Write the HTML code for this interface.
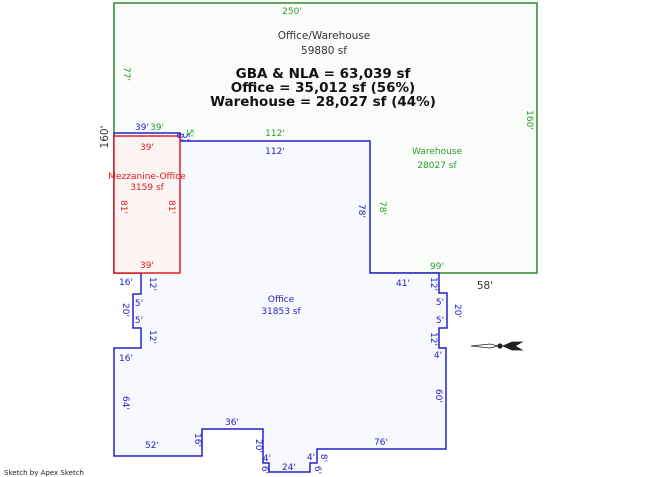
<!DOCTYPE html>
<html><head><style>
html,body{margin:0;padding:0;background:#fff;}
svg{display:block;}
text{font-family:"DejaVu Sans","Liberation Sans",sans-serif;font-size:9px;}
</style></head><body>
<svg width="650" height="477" viewBox="0 0 650 477" xmlns="http://www.w3.org/2000/svg">
<rect x="114" y="3" width="423" height="270" fill="#f9fcf9" stroke="#2e8b2e" stroke-width="1.5"/>
<path d="M114,133 L180,133 L180,141 L370,141 L370,273 L439,273 L439,293 L447,293 L447,328 L439,328 L439,348 L446,348 L446,449 L317,449 L317,463 L310,463 L310,472 L269,472 L269,463 L263,463 L263,429 L202,429 L202,456 L114,456 L114,348 L141,348 L141,328 L133,328 L133,294 L141,294 L141,273 L114,273 Z" fill="#f8f8ff" stroke="#2323c8" stroke-width="1.5"/>
<rect x="114" y="136" width="66" height="137" fill="#fcf3f3" stroke="#e02020" stroke-width="1.5"/>
<g fill="#2e9a2e" text-anchor="middle">
<text x="292" y="14">250'</text>
<text x="157" y="130">39'</text>
<text x="275" y="136">112'</text>
<text x="437" y="154">Warehouse</text>
<text x="437" y="168">28027 sf</text>
<text x="437" y="269">99'</text>
<text transform="translate(124,74) rotate(90)">77'</text>
<text transform="translate(527,120) rotate(90)">160'</text>
<text transform="translate(380,208) rotate(90)">78'</text>
<text transform="translate(187,133) rotate(90)">5'</text>
</g>
<g fill="#333" text-anchor="middle">
<text x="324" y="39" style="font-size:10.5px">Office/Warehouse</text>
<text x="324" y="54" style="font-size:10.5px">59880 sf</text>
<text transform="translate(108,137) rotate(-90)" style="font-size:10.5px">160'</text>
<text x="485" y="289" style="font-size:10.5px">58'</text>
</g>
<g fill="#111" text-anchor="middle">
<text x="323" y="78" style="font-size:13.5px;font-weight:bold">GBA &amp; NLA = 63,039 sf</text>
<text x="323" y="92" style="font-size:13.5px;font-weight:bold">Office = 35,012 sf (56%)</text>
<text x="323" y="106" style="font-size:13.5px;font-weight:bold">Warehouse = 28,027 sf (44%)</text>
</g>
<g fill="#2323c8" text-anchor="middle">
<text x="142" y="130">39'</text>
<text x="275" y="154">112'</text>
<text x="281" y="302">Office</text>
<text x="281" y="314">31853 sf</text>
<text x="126" y="285">16'</text>
<text x="403" y="286">41'</text>
<text x="126" y="361">16'</text>
<text x="152" y="448">52'</text>
<text x="232" y="425">36'</text>
<text x="267" y="461">4'</text>
<text x="289" y="470">24'</text>
<text x="311" y="460">4'</text>
<text x="381" y="445">76'</text>
<text x="139" y="306">5'</text>
<text x="139" y="323">5'</text>
<text x="440" y="305">5'</text>
<text x="440" y="323">5'</text>
<text x="438" y="358">4'</text>
<text transform="translate(177,137) rotate(90)">8'</text>
<text transform="translate(183,137) rotate(90)">5'</text>
<text transform="translate(150,284) rotate(90)">12'</text>
<text transform="translate(123,310) rotate(90)">20'</text>
<text transform="translate(150,337) rotate(90)">12'</text>
<text transform="translate(123,403) rotate(90)">64'</text>
<text transform="translate(195,440) rotate(90)">16'</text>
<text transform="translate(256,446) rotate(90)">20'</text>
<text transform="translate(262,470) rotate(90)">6'</text>
<text transform="translate(315,470) rotate(90)">6'</text>
<text transform="translate(321,458) rotate(90)">8'</text>
<text transform="translate(431,284) rotate(90)">12'</text>
<text transform="translate(455,311) rotate(90)">20'</text>
<text transform="translate(431,339) rotate(90)">12'</text>
<text transform="translate(436,396) rotate(90)">60'</text>
<text transform="translate(359,211) rotate(90)">78'</text>
</g>
<g fill="#e02020" text-anchor="middle">
<text x="147" y="150">39'</text>
<text x="147" y="179">Mezzanine-Office</text>
<text x="147" y="190">3159 sf</text>
<text x="147" y="268">39'</text>
<text transform="translate(121,207) rotate(90)">81'</text>
<text transform="translate(169,207) rotate(90)">81'</text>
</g>
<g fill="#222" stroke="#222" stroke-width="0.8">
<path d="M471,346 L490,344 L498,346 L490,348 Z" fill="#fff"/>
<circle cx="500" cy="346" r="2.2"/>
<path d="M503,346 L512,342 L522,342 L515,346 L522,350 L512,350 Z"/>
</g>
<text x="4" y="475" style="font-size:7px" fill="#222">Sketch by Apex Sketch</text>
</svg>
</body></html>
